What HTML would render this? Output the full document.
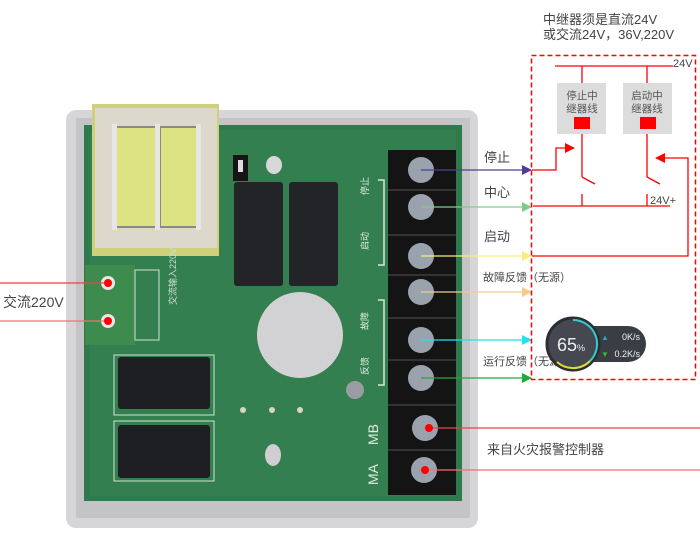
<!DOCTYPE html>
<html><head><meta charset="utf-8"><style>
html,body{margin:0;padding:0;background:#fff;}
svg{display:block;}
text{font-family:"Liberation Sans","Noto Sans CJK SC",sans-serif;}
</style></head><body>
<svg width="700" height="538" viewBox="0 0 700 538" xmlns="http://www.w3.org/2000/svg">
<defs>
<marker id="mp" markerWidth="10" markerHeight="10" refX="9" refY="5" orient="auto" markerUnits="userSpaceOnUse"><path d="M0,0 L10,5 L0,10 z" fill="#4a3f9a"/></marker>
<marker id="mg" markerWidth="10" markerHeight="10" refX="9" refY="5" orient="auto" markerUnits="userSpaceOnUse"><path d="M0,0 L10,5 L0,10 z" fill="#7fcc8a"/></marker>
<marker id="my" markerWidth="10" markerHeight="10" refX="9" refY="5" orient="auto" markerUnits="userSpaceOnUse"><path d="M0,0 L10,5 L0,10 z" fill="#f8ee80"/></marker>
<marker id="mo" markerWidth="10" markerHeight="10" refX="9" refY="5" orient="auto" markerUnits="userSpaceOnUse"><path d="M0,0 L10,5 L0,10 z" fill="#f8c98a"/></marker>
<marker id="mc" markerWidth="10" markerHeight="10" refX="9" refY="5" orient="auto" markerUnits="userSpaceOnUse"><path d="M0,0 L10,5 L0,10 z" fill="#22e0f0"/></marker>
<marker id="md" markerWidth="10" markerHeight="10" refX="9" refY="5" orient="auto" markerUnits="userSpaceOnUse"><path d="M0,0 L10,5 L0,10 z" fill="#22aa3a"/></marker>
<marker id="mr" markerWidth="10" markerHeight="10" refX="9" refY="5" orient="auto" markerUnits="userSpaceOnUse"><path d="M0,0 L10,5 L0,10 z" fill="#f00"/></marker>
</defs>
<!-- case -->
<rect x="66" y="110" width="412" height="418" rx="10" fill="#d6d6d8"/>
<rect x="76" y="118" width="394" height="400" fill="#c4c4c6"/>
<!-- board -->
<rect x="84" y="125" width="378" height="376" fill="#2f7a4a"/>
<rect x="90" y="130" width="366" height="366" fill="#347f4f"/>
<!-- transformer -->
<rect x="92" y="104" width="127" height="152" fill="#cfd07a"/>
<rect x="95" y="108" width="122" height="140" fill="#dcd8cc"/>
<rect x="113" y="126" width="88" height="102" fill="#8a8a80"/>
<rect x="117" y="128" width="40" height="98" fill="#dde283"/>
<rect x="161" y="128" width="36" height="98" fill="#dde283"/>
<rect x="155" y="124" width="5" height="106" fill="#e6e6e6"/>
<rect x="196" y="124" width="5" height="106" fill="#e6e6e6"/>
<rect x="112" y="124" width="5" height="106" fill="#e6e6e6"/>
<!-- jumper & relays -->
<rect x="233" y="155" width="15" height="26" fill="#151515"/>
<rect x="238" y="160" width="5" height="12" fill="#ddd"/>
<ellipse cx="274" cy="165" rx="8" ry="9" fill="#d8d8d8"/>
<rect x="234" y="182" width="49" height="104" rx="3" fill="#222428"/>
<rect x="289" y="182" width="49" height="104" rx="3" fill="#222428"/>
<!-- green terminal -->
<rect x="85" y="265" width="50" height="80" fill="#3e8b4e"/>
<rect x="135" y="270" width="24" height="70" fill="none" stroke="#cfe0d0" stroke-width="1"/>
<circle cx="108" cy="283" r="7" fill="#e8e8e8"/>
<circle cx="108" cy="321" r="7" fill="#e8e8e8"/>
<circle cx="108" cy="283" r="4" fill="#f00"/>
<circle cx="108" cy="321" r="4" fill="#f00"/>
<text x="176" y="305" font-size="9" fill="#cfe0d0" transform="rotate(-90 176 305)">交流输入220V</text>
<!-- black relays -->
<rect x="114" y="355" width="100" height="60" fill="none" stroke="#cfe0d0"/>
<rect x="118" y="357" width="92" height="52" rx="3" fill="#1e1f22"/>
<rect x="114" y="421" width="100" height="60" fill="none" stroke="#cfe0d0"/>
<rect x="118" y="425" width="92" height="53" rx="3" fill="#1e1f22"/>
<!-- holes -->
<circle cx="300" cy="335" r="43" fill="#d2d2d4"/>
<circle cx="243" cy="410" r="3" fill="#d8d8b8"/>
<circle cx="272" cy="410" r="3" fill="#d8d8b8"/>
<circle cx="300" cy="410" r="3" fill="#d8d8b8"/>
<ellipse cx="273" cy="455" rx="8" ry="11" fill="#cfcfd1"/>
<circle cx="355" cy="390" r="9" fill="#9a9ea4"/>
<!-- silk brackets -->
<path d="M378,180 H384 V265 H378 M378,300 H384 V385 H378" fill="none" stroke="#d8e6da" stroke-width="1.5"/>
<text x="368" y="195" font-size="9" fill="#e0eee2" transform="rotate(-90 368 195)">停止</text>
<text x="368" y="250" font-size="9" fill="#e0eee2" transform="rotate(-90 368 250)">启动</text>
<text x="368" y="330" font-size="9" fill="#e0eee2" transform="rotate(-90 368 330)">故障</text>
<text x="368" y="375" font-size="9" fill="#e0eee2" transform="rotate(-90 368 375)">反馈</text>
<text x="378" y="445" font-size="14" fill="#e0eee2" transform="rotate(-90 378 445)">MB</text>
<text x="378" y="485" font-size="14" fill="#e0eee2" transform="rotate(-90 378 485)">MA</text>
<!-- terminal block -->
<rect x="388" y="150" width="68" height="345" fill="#141414"/>
<g fill="#9aa3ad">
<circle cx="421" cy="170" r="13"/><circle cx="421" cy="207" r="13"/><circle cx="421" cy="256" r="13"/><circle cx="421" cy="292" r="13"/><circle cx="421" cy="340" r="13"/><circle cx="421" cy="378" r="13"/><circle cx="425" cy="428" r="13"/><circle cx="424" cy="470" r="13"/>
</g>
<g stroke="#333" stroke-width="2">
<line x1="388" y1="190" x2="456" y2="190"/><line x1="388" y1="235" x2="456" y2="235"/><line x1="388" y1="275" x2="456" y2="275"/><line x1="388" y1="318" x2="456" y2="318"/><line x1="388" y1="360" x2="456" y2="360"/><line x1="388" y1="405" x2="456" y2="405"/><line x1="388" y1="450" x2="456" y2="450"/>
</g>
<!-- left labels -->
<line x1="0" y1="283" x2="104" y2="283" stroke="#e84545" stroke-width="1.2"/>
<line x1="0" y1="321" x2="104" y2="321" stroke="#f07070" stroke-width="1.2"/>
<text x="3" y="307" font-size="14" fill="#444">交流220V</text>
<!-- arrows -->
<line x1="421" y1="170" x2="531" y2="170" stroke="#4a3f9a" stroke-width="1.3" marker-end="url(#mp)"/>
<line x1="421" y1="207" x2="531" y2="207" stroke="#7fcc8a" stroke-width="1.3" marker-end="url(#mg)"/>
<line x1="421" y1="256" x2="531" y2="256" stroke="#f8ee80" stroke-width="1.3" marker-end="url(#my)"/>
<line x1="421" y1="292" x2="531" y2="292" stroke="#f8c98a" stroke-width="1.3" marker-end="url(#mo)"/>
<line x1="421" y1="340" x2="531" y2="340" stroke="#22e0f0" stroke-width="1.3" marker-end="url(#mc)"/>
<line x1="421" y1="378" x2="531" y2="378" stroke="#22aa3a" stroke-width="1.3" marker-end="url(#md)"/>
<line x1="425" y1="428" x2="700" y2="428" stroke="#e84545" stroke-width="1.2"/>
<line x1="424" y1="470" x2="700" y2="470" stroke="#f07070" stroke-width="1.2"/>
<circle cx="429" cy="428" r="4" fill="#f00"/><circle cx="425" cy="470" r="4" fill="#f00"/>
<g font-size="13" fill="#444">
<text x="484" y="162">停止</text>
<text x="484" y="197">中心</text>
<text x="484" y="241">启动</text>
<text x="483" y="281" font-size="11">故障反馈（无源）</text>
<text x="483" y="365" font-size="11">运行反馈（无源）</text>
<text x="487" y="454">来自火灾报警控制器</text>
<text x="543" y="24" font-size="13">中继器须是直流24V</text>
<text x="543" y="39" font-size="13">或交流24V，36V,220V</text>
</g>
<!-- dashed box -->
<rect x="531.5" y="55.5" width="164" height="324" fill="none" stroke="#f00" stroke-width="1.5" stroke-dasharray="5,3"/>
<line x1="555" y1="66" x2="673" y2="66" stroke="#f00" stroke-width="1.3"/>
<text x="673" y="67" font-size="11" fill="#444">24V</text>
<line x1="582" y1="66" x2="582" y2="83" stroke="#f00" stroke-width="1.3"/>
<line x1="647" y1="66" x2="647" y2="83" stroke="#f00" stroke-width="1.3"/>
<rect x="557" y="83" width="49" height="51" fill="#dcdcdc"/>
<rect x="623" y="83" width="49" height="51" fill="#dcdcdc"/>
<g font-size="10.5" fill="#555" text-anchor="middle">
<text x="582" y="99">停止中</text><text x="582" y="112">继器线</text>
<text x="647" y="99">启动中</text><text x="647" y="112">继器线</text>
</g>
<rect x="574" y="117" width="16" height="12" fill="#f00"/>
<rect x="640" y="117" width="16" height="12" fill="#f00"/>
<g stroke="#f00" stroke-width="1.3" fill="none">
<line x1="582" y1="134" x2="582" y2="177"/><line x1="582" y1="177" x2="595" y2="184"/>
<line x1="647" y1="134" x2="647" y2="177"/><line x1="647" y1="177" x2="660" y2="184"/>
<polyline points="532,170 556,170 556,148 574,148" marker-end="url(#mr)"/>
<line x1="533" y1="206" x2="670" y2="206"/>
<line x1="582" y1="194" x2="582" y2="206"/><line x1="647" y1="194" x2="647" y2="206"/>
<polyline points="532,256 688,256 688,158 656,158" marker-end="url(#mr)"/>
</g>
<text x="650" y="204" font-size="11" fill="#444">24V+</text>
<!-- widget -->
<rect x="568" y="326" width="78" height="36" rx="18" fill="#3a3d44"/>
<circle cx="573" cy="344" r="26" fill="#454850" stroke="#2c2e33" stroke-width="3"/>
<path d="M573,320 A24,24 0 0 1 590,361" fill="none" stroke="#3cc" stroke-width="2"/>
<path d="M590,361 A24,24 0 0 1 557,362" fill="none" stroke="#dd3" stroke-width="2"/>
<text x="557" y="351" font-size="18" fill="#eee">65<tspan font-size="9">%</tspan></text>
<text x="601" y="340" font-size="8" fill="#39c">▲</text>
<text x="601" y="357" font-size="8" fill="#3b3">▼</text>
<text x="640" y="340" font-size="9" fill="#eee" text-anchor="end">0K/s</text>
<text x="640" y="357" font-size="9" fill="#eee" text-anchor="end">0.2K/s</text>
</svg>
</body></html>
